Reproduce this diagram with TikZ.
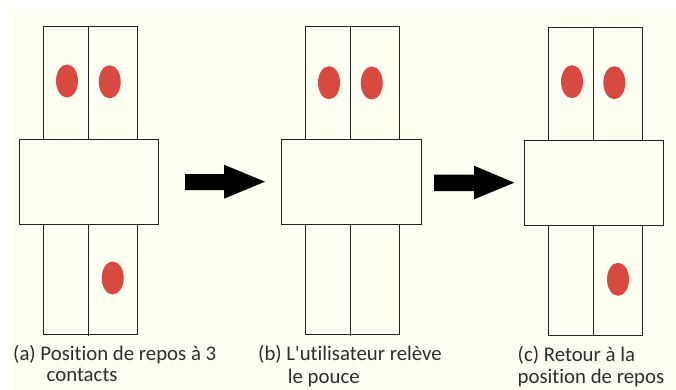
\documentclass[tikz,border=0pt]{standalone}
\usepackage{fontspec}
\setmainfont{Carlito}[Ligatures={TeXOff,CommonOff}]
\definecolor{cream}{HTML}{FFFFF4}
\definecolor{dotred}{HTML}{D84A40}
\definecolor{ink}{HTML}{222222}
\definecolor{txt}{HTML}{2E2E2E}
\begin{document}
\begin{tikzpicture}[x=1pt,y=-1pt,
  part/.style={draw=ink,line width=0.9pt,fill=cream},
  mid/.style={draw=ink,line width=0.9pt},
  contact/.style={fill=dotred,x radius=11,y radius=16.5},
  blockarrow/.style={fill=black},
  caption/.style={anchor=base west,inner sep=0pt,text=txt,font=\fontsize{20.8}{23}\selectfont}]
\useasboundingbox (0,0) rectangle (676,390);
\fill[white] (0,0) rectangle (676,390);
\fill[cream] (10,9) rectangle (676,390);
% panel a
\draw[part] (43.7,26) rectangle (137.3,139.3);
\draw[part] (43.7,224.7) rectangle (137.3,334.3);
\draw[mid] (88.3,26) -- (88.3,139.3);
\draw[mid] (88.3,224.7) -- (88.3,335.5);
\draw[part] (19,139.3) rectangle (158.7,224.7);
\fill[contact] (67,81) ellipse [];
\fill[contact] (109.7,81.8) ellipse [];
\fill[contact] (112.7,278) ellipse [];
% panel b
\draw[part] (305.7,26) rectangle (399.3,139.3);
\draw[part] (305.7,224.7) rectangle (399.3,334.3);
\draw[mid] (350.7,26) -- (350.7,139.3);
\draw[mid] (350.7,224.7) -- (350.7,335.5);
\draw[part] (281,139.3) rectangle (421,224.7);
\fill[contact] (329,82.7) ellipse [];
\fill[contact] (371.7,83) ellipse [];
% panel c
\draw[part] (548.7,27.3) rectangle (642.3,140.3);
\draw[part] (548.7,225.7) rectangle (642.3,335);
\draw[mid] (593.3,27.3) -- (593.3,140.3);
\draw[mid] (593.3,225.7) -- (593.3,336.2);
\draw[part] (524.3,140.3) rectangle (663.7,225.7);
\fill[contact] (572,81.7) ellipse [];
\fill[contact] (614.3,82.7) ellipse [];
\fill[contact] (618,279.3) ellipse [];
% arrows
\fill[blockarrow] (185,174) -- (224,174) -- (224,164.7) -- (265,181.7) -- (224,198.7) -- (224,190) -- (185,190) -- cycle;
\fill[blockarrow] (434,174.5) -- (474,174.5) -- (474,165.7) -- (514.3,182.7) -- (474,199.3) -- (474,191) -- (434,191) -- cycle;
% captions
\node[caption] (ca1) at (13,360.7) {(a) Position de repos à 3};
\node[caption] (ca2) at (46.5,381.7) {contacts};
\node[caption] (cb1) at (258,360) {(b) L'utilisateur relève};
\node[caption] (cb2) at (287.7,383) {le pouce};
\node[caption] (cc1) at (517.5,361) {(c) Retour à la};
\node[caption] (cc2) at (517.5,383) {position de repos};
\end{tikzpicture}
\end{document}
